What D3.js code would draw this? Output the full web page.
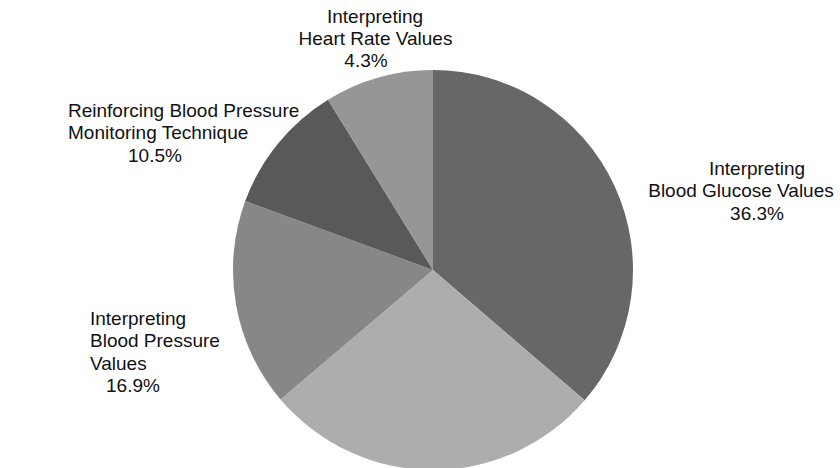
<!DOCTYPE html>
<html>
<head>
<meta charset="utf-8">
<script src="https://cdn.jsdelivr.net/npm/d3@7"></script>
<style>
  html, body { margin: 0; padding: 0; background: #fff; }
  svg { display: block; }
  text { font-family: "Liberation Sans", Arial, sans-serif; font-size: 19px; fill: #111; }
</style>
</head>
<body>
<svg id="chart" width="840" height="468"></svg>
<script>
// ---- data (clockwise from 12 o'clock) ----
const categories = [
  "Interpreting Blood Glucose Values",
  "(unlabelled)",
  "Interpreting Blood Pressure Values",
  "Reinforcing Blood Pressure Monitoring Technique",
  "Interpreting Heart Rate Values"
];
// slice sizes as drawn in the picture (percent of the circle)
const sliceValues = [36.3, 27.5, 16.8, 10.6, 8.8];
// percentages printed in the labels
const labelPercents = ["36.3%", null, "16.9%", "10.5%", "4.3%"];
// label text lines (without the percentage)
const labelLines = [
  ["Interpreting", "Blood Glucose Values"],
  null,
  ["Interpreting", "Blood Pressure", "Values"],
  ["Reinforcing Blood Pressure", "Monitoring Technique"],
  ["Interpreting", "Heart Rate Values"]
];
const sliceColors = ["#676767", "#adadad", "#878786", "#595959", "#969696"];

// ---- layout ----
const W = 840, H = 468;
const cx = 433, cy = 270, R = 200;
const lineH = 22.4;
// label layout: first baseline y, and x / anchor for each line (text lines then percent line)
const labelLayout = [
  { y: 175, lines: [[757, "middle"], [741, "middle"], [757, "middle"]] },
  null,
  { y: 325, lines: [[90, "start"], [90, "start"], [90, "start"], [106, "start"]] },
  { y: 117, lines: [[68, "start"], [68, "start"], [128, "start"]] },
  { y: 22.5, lines: [[375, "middle"], [375.5, "middle"], [366, "middle"]] }
];

const svg = d3.select("#chart");
const g = svg.append("g").attr("transform", `translate(${cx},${cy})`);

const pie = d3.pie().sort(null).value(d => d).startAngle(0).endAngle(2 * Math.PI);
const arc = d3.arc().innerRadius(0).outerRadius(R);

g.selectAll("path.slice")
  .data(pie(sliceValues))
  .join("path")
  .attr("class", "slice")
  .attr("d", arc)
  .attr("fill", (d, i) => sliceColors[i]);

// labels
labelLines.forEach((lines, i) => {
  if (!lines) return;
  const lay = labelLayout[i];
  const all = lines.concat([labelPercents[i]]);
  const t = svg.append("text");
  all.forEach((s, j) => {
    t.append("tspan")
      .attr("x", lay.lines[j][0])
      .attr("y", lay.y + j * lineH)
      .attr("text-anchor", lay.lines[j][1])
      .text(s);
  });
});
</script>
</body>
</html>
